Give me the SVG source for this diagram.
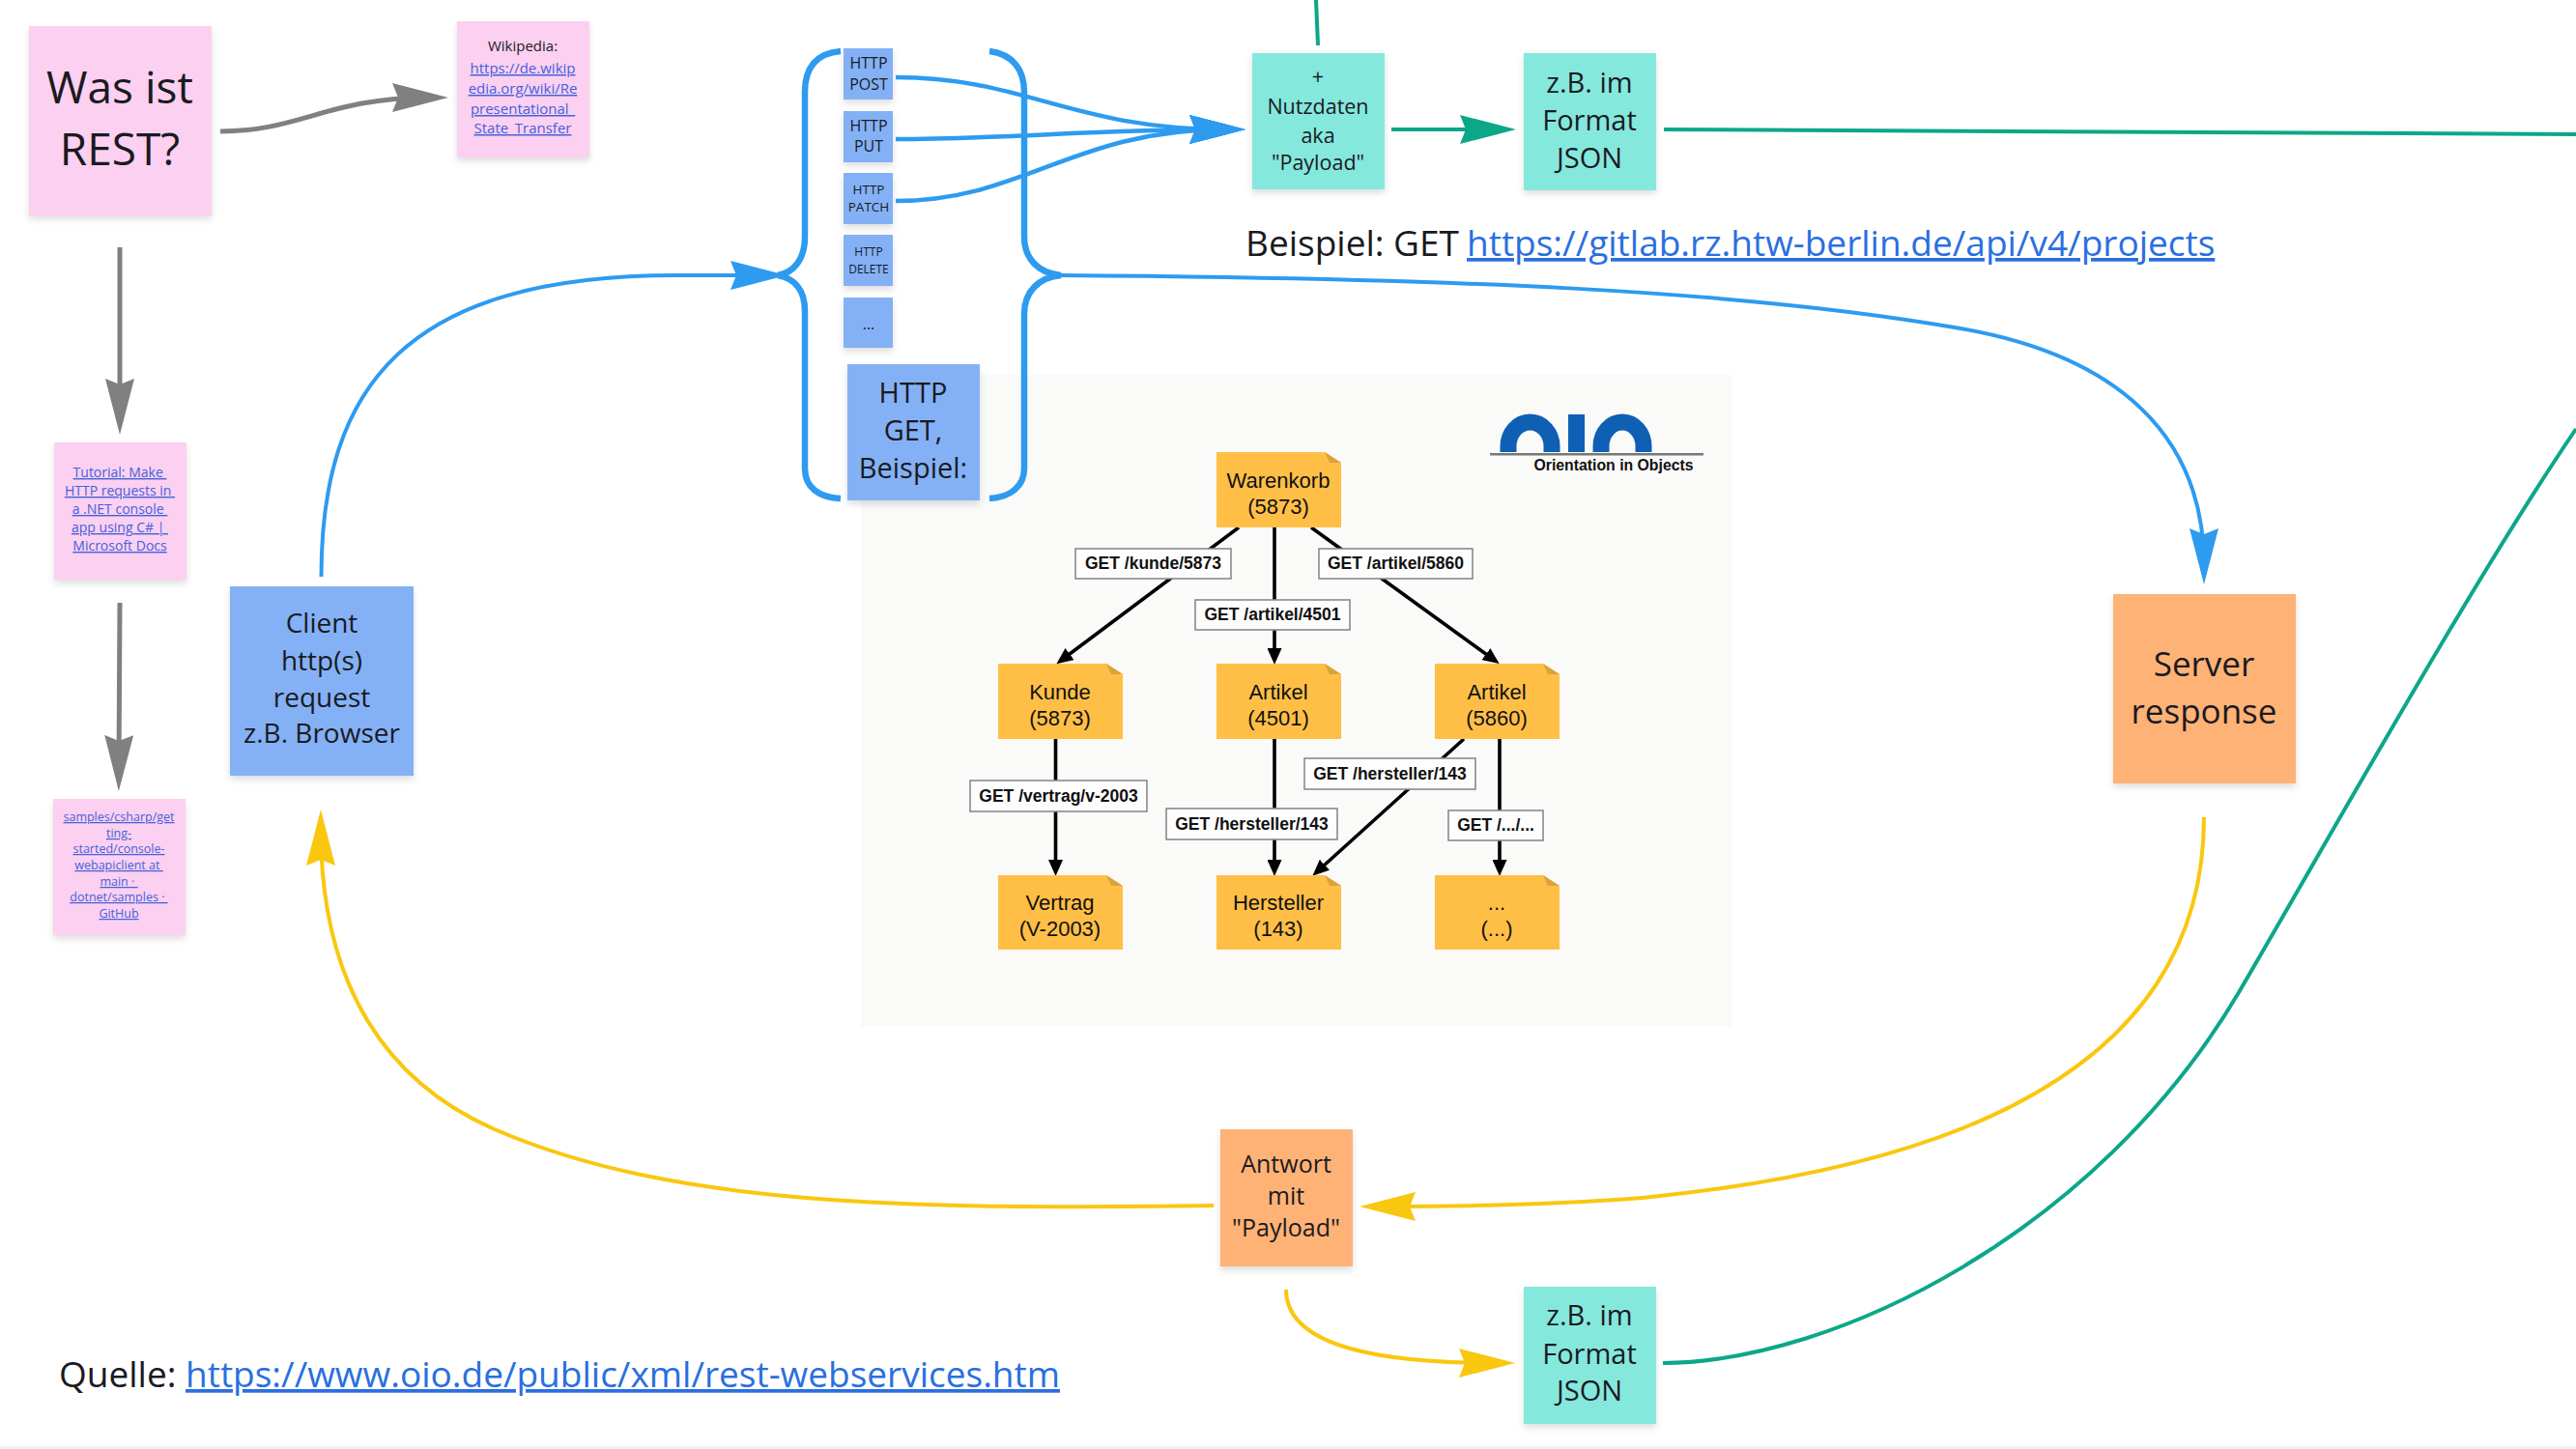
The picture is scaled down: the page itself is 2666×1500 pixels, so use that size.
<svg xmlns="http://www.w3.org/2000/svg" width="2666" height="1500" viewBox="0 0 2666 1500">
<style>
text{font-family:"Open Sans","Noto Sans",sans-serif;fill:#1a1a1f;text-anchor:middle;white-space:pre}
.lnk{fill:#4262dd;text-decoration:underline}
.big{fill:#2a6fe0;text-decoration:underline;text-anchor:start;font-size:37px}
.plain{text-anchor:start;font-size:37px}
.pink{fill:#fcd0f0}.blue{fill:#84b1f5}.teal{fill:#85e8dd}.orange{fill:#feb276}
.st{filter:url(#sh)}
.c{fill:none;stroke-width:4}
.g{stroke:#808080;stroke-width:5}.b{stroke:#2d9bf0}.y{stroke:#fac710}.t{stroke:#0ca789}
.note{fill:#ffbf47;stroke:none}
.fold{fill:#d9a23a}
.nt{font-family:"Liberation Sans",Arial,sans-serif;font-size:22px;fill:#111}
.lb{fill:#fdfdfd;stroke:#8a8a8a;stroke-width:1.6}
.lt{font-family:"Liberation Sans",Arial,sans-serif;font-size:17.5px;font-weight:bold;fill:#111}
.k{stroke:#000;stroke-width:3.6;fill:none}
</style>
<defs>
<filter id="sh" x="-20%" y="-20%" width="140%" height="140%"><feDropShadow dx="0" dy="4" stdDeviation="3.5" flood-color="#000" flood-opacity="0.13"/></filter>
<marker id="mg" markerUnits="userSpaceOnUse" markerWidth="58" markerHeight="30" viewBox="0 0 58 30" refX="38" refY="15" orient="auto"><path d="M0,0L58,15L0,30L6,15Z" fill="#808080"/></marker>
<marker id="mb" markerUnits="userSpaceOnUse" markerWidth="58" markerHeight="30" viewBox="0 0 58 30" refX="38" refY="15" orient="auto"><path d="M0,0L58,15L0,30L6,15Z" fill="#2d9bf0"/></marker>
<marker id="my" markerUnits="userSpaceOnUse" markerWidth="58" markerHeight="30" viewBox="0 0 58 30" refX="38" refY="15" orient="auto"><path d="M0,0L58,15L0,30L6,15Z" fill="#fac710"/></marker>
<marker id="mt" markerUnits="userSpaceOnUse" markerWidth="58" markerHeight="30" viewBox="0 0 58 30" refX="38" refY="15" orient="auto"><path d="M0,0L58,15L0,30L6,15Z" fill="#0ca789"/></marker>
<marker id="mk" markerUnits="userSpaceOnUse" markerWidth="17" markerHeight="15" viewBox="0 0 17 15" refX="10" refY="7.5" orient="auto"><path d="M0,0L17,7.5L0,15Z" fill="#000"/></marker>
</defs>
<rect width="2666" height="1500" fill="#fff"/>
<rect y="1497" width="2666" height="3" fill="#f1f1f1"/>

<g id="oio-panel">
<rect x="891" y="388" width="901" height="675" fill="#fafaf8"/>
<g id="oio-logo">
<path d="M1561,468V462A22.500,25 0 0 1 1606,462V468M1657,468V462A22,25 0 0 1 1701,462V468" fill="none" stroke="#0f5fb5" stroke-width="17"/>
<rect x="1623" y="429" width="17" height="39" fill="#0f5fb5"/>
<rect x="1542" y="469" width="221" height="2.5" fill="#77777a"/>
<text x="1670" y="487" style="font-family:'Liberation Sans',Arial,sans-serif;font-size:15.800px;font-weight:bold;fill:#111">Orientation in Objects</text>
</g>
<g id="oio-edges">
<path class="k" d="M1282,546L1099,683" marker-end="url(#mk)"/>
<path class="k" d="M1319,546V681" marker-end="url(#mk)"/>
<path class="k" d="M1357,546L1546,683" marker-end="url(#mk)"/>
<path class="k" d="M1092.500,765V900" marker-end="url(#mk)"/>
<path class="k" d="M1319,765V900" marker-end="url(#mk)"/>
<path class="k" d="M1515,765L1363.500,902" marker-end="url(#mk)"/>
<path class="k" d="M1552,765V900" marker-end="url(#mk)"/>
</g>
<g id="n-warenkorb"><path class="note" d="M1259,468H1371L1388,479V546H1259Z"/><path class="fold" d="M1371,468L1388,479H1376Z"/><text class="nt" x="1323" y="505">Warenkorb</text><text class="nt" x="1323" y="532">(5873)</text></g>
<g id="n-kunde"><path class="note" d="M1033,687H1145L1162,698V765H1033Z"/><path class="fold" d="M1145,687L1162,698H1150Z"/><text class="nt" x="1097" y="724">Kunde</text><text class="nt" x="1097" y="751">(5873)</text></g>
<g id="n-artikel4501"><path class="note" d="M1259,687H1371L1388,698V765H1259Z"/><path class="fold" d="M1371,687L1388,698H1376Z"/><text class="nt" x="1323" y="724">Artikel</text><text class="nt" x="1323" y="751">(4501)</text></g>
<g id="n-artikel5860"><path class="note" d="M1485,687H1597L1614,698V765H1485Z"/><path class="fold" d="M1597,687L1614,698H1602Z"/><text class="nt" x="1549" y="724">Artikel</text><text class="nt" x="1549" y="751">(5860)</text></g>
<g id="n-vertrag"><path class="note" d="M1033,906H1145L1162,917V983H1033Z"/><path class="fold" d="M1145,906L1162,917H1150Z"/><text class="nt" x="1097" y="942">Vertrag</text><text class="nt" x="1097" y="969">(V-2003)</text></g>
<g id="n-hersteller"><path class="note" d="M1259,906H1371L1388,917V983H1259Z"/><path class="fold" d="M1371,906L1388,917H1376Z"/><text class="nt" x="1323" y="942">Hersteller</text><text class="nt" x="1323" y="969">(143)</text></g>
<g id="n-etc"><path class="note" d="M1485,906H1597L1614,917V983H1485Z"/><path class="fold" d="M1597,906L1614,917H1602Z"/><text class="nt" x="1549" y="942">...</text><text class="nt" x="1549" y="969">(...)</text></g>
<g id="l-kunde"><rect class="lb" x="1113" y="568" width="161" height="31"/><text class="lt" x="1193.500" y="589">GET /kunde/5873</text></g>
<g id="l-artikel5860"><rect class="lb" x="1365" y="568" width="159" height="31"/><text class="lt" x="1444.500" y="589">GET /artikel/5860</text></g>
<g id="l-artikel4501"><rect class="lb" x="1237" y="621" width="160" height="31"/><text class="lt" x="1317" y="642">GET /artikel/4501</text></g>
<g id="l-vertrag"><rect class="lb" x="1004" y="808" width="183" height="32"/><text class="lt" x="1095.500" y="830">GET /vertrag/v-2003</text></g>
<g id="l-hersteller1"><rect class="lb" x="1207" y="837" width="177" height="32"/><text class="lt" x="1295.500" y="859">GET /hersteller/143</text></g>
<g id="l-hersteller2"><rect class="lb" x="1350" y="785" width="177" height="32"/><text class="lt" x="1438.500" y="807">GET /hersteller/143</text></g>
<g id="l-etc"><rect class="lb" x="1499" y="839" width="98" height="31"/><text class="lt" x="1548" y="860">GET /.../...</text></g>
</g>

<g id="connectors">
<path class="c g" d="M228,136C310,136 340,101 444,101" marker-end="url(#mg)"/>
<path class="c g" d="M124,256V430" marker-end="url(#mg)"/>
<path class="c g" d="M124,624L123,799" marker-end="url(#mg)"/>
<path class="c b" d="M332.500,597C332.500,400 420,285 700,285L794,285" marker-end="url(#mb)"/>
<path class="c b" style="stroke-width:6.500" d="M870,53C845,55 833,70 833,95V245C833,268 822,282 805,285C822,288 833,300 833,322V485C833,505 848,515 870,516"/>
<path class="c b" style="stroke-width:6.500" d="M1024,53C1048,56 1060,72 1060,95V245C1060,268 1075,283 1098,285C1075,287 1060,302 1060,325V485C1060,503 1046,515 1024,516"/>
<path class="c b" style="stroke-width:4.500" d="M927,80C1060,80 1110,134 1269,134" marker-end="url(#mb)"/>
<path class="c b" style="stroke-width:4.500" d="M927,144C1040,144 1130,134 1269,134" marker-end="url(#mb)"/>
<path class="c b" style="stroke-width:4.500" d="M927,208C1060,208 1110,134 1269,134" marker-end="url(#mb)"/>
<path class="c b" d="M1098,285C1500,288 1800,300 2029,340C2190,368 2281,450 2281,585" marker-end="url(#mb)"/>
<path class="c t" d="M1362,0L1364,47"/>
<path class="c t" d="M1440,134H1549" marker-end="url(#mt)"/>
<path class="c t" d="M1722,134L2666,139"/>
<path class="c t" d="M1721,1411C1900,1410 2170,1275 2316,1029C2416,858 2560,600 2666,444"/>
<path class="c y" d="M2281,846C2281,1140 1950,1215 1700,1240C1610,1247 1520,1249 1427,1249" marker-end="url(#my)"/>
<path class="c y" d="M1256,1248C950,1252 700,1250 514,1170C400,1121 332,1020 332,858" marker-end="url(#my)"/>
<path class="c y" d="M1331,1335C1331,1385 1400,1411 1548,1411" marker-end="url(#my)"/>
</g>

<g id="n-rest"><rect class="pink st" x="30" y="27" width="189" height="196"/><text x="124" y="107" font-size="46">Was ist</text><text x="124" y="171" font-size="46">REST?</text></g>
<g id="n-wikipedia"><rect class="pink st" x="473" y="22" width="137" height="141"/><text x="541" y="53" font-size="15">Wikipedia:</text><text class="lnk" x="541" y="76" font-size="15">https://de.wikip</text><text class="lnk" x="541" y="97" font-size="15">edia.org/wiki/Re</text><text class="lnk" x="541" y="118" font-size="15">presentational_</text><text class="lnk" x="541" y="138" font-size="15">State_Transfer</text></g>
<g id="n-tutorial"><rect class="pink st" x="56" y="458" width="137" height="142"/><text class="lnk" x="124" y="494" font-size="14">Tutorial: Make </text><text class="lnk" x="124" y="513" font-size="14">HTTP requests in </text><text class="lnk" x="124" y="532" font-size="14">a .NET console </text><text class="lnk" x="124" y="551" font-size="14">app using C# | </text><text class="lnk" x="124" y="570" font-size="14">Microsoft Docs</text></g>
<g id="n-samples"><rect class="pink st" x="55" y="827" width="137" height="141"/><text class="lnk" x="123" y="850" font-size="12.500">samples/csharp/get</text><text class="lnk" x="123" y="867" font-size="12.500">ting-</text><text class="lnk" x="123" y="883" font-size="12.500">started/console-</text><text class="lnk" x="123" y="900" font-size="12.500">webapiclient at </text><text class="lnk" x="123" y="917" font-size="12.500">main · </text><text class="lnk" x="123" y="933" font-size="12.500">dotnet/samples · </text><text class="lnk" x="123" y="950" font-size="12.500">GitHub</text></g>
<g id="n-client"><rect class="blue st" x="238" y="607" width="190" height="196"/><text x="333" y="655" font-size="28">Client</text><text x="333" y="694" font-size="28">http(s)</text><text x="333" y="732" font-size="28">request</text><text x="333" y="769" font-size="28">z.B. Browser</text></g>
<g id="n-post"><rect class="blue st" x="873" y="50" width="51" height="53"/><text x="899" y="71" font-size="16">HTTP</text><text x="899" y="93" font-size="16">POST</text></g>
<g id="n-put"><rect class="blue st" x="873" y="115" width="51" height="53"/><text x="899" y="136" font-size="16">HTTP</text><text x="899" y="157" font-size="16">PUT</text></g>
<g id="n-patch"><rect class="blue st" x="873" y="179" width="51" height="53"/><text x="899" y="201" font-size="13.500">HTTP</text><text x="899" y="219" font-size="13.500">PATCH</text></g>
<g id="n-delete"><rect class="blue st" x="873" y="243" width="51" height="53"/><text x="899" y="265" font-size="12">HTTP</text><text x="899" y="283" font-size="12">DELETE</text></g>
<g id="n-more"><rect class="blue st" x="873" y="308" width="51" height="52"/><text x="899" y="341" font-size="16">...</text></g>
<g id="n-get"><rect class="blue st" x="877" y="377" width="137" height="141"/><text x="945" y="417" font-size="29">HTTP</text><text x="945" y="456" font-size="29">GET,</text><text x="945" y="495" font-size="29">Beispiel:</text></g>
<g id="n-nutzdaten"><rect class="teal st" x="1296" y="55" width="137" height="141"/><text x="1364" y="87" font-size="21.500">+</text><text x="1364" y="118" font-size="21.500">Nutzdaten</text><text x="1364" y="148" font-size="21.500">aka</text><text x="1364" y="176" font-size="21.500">"Payload"</text></g>
<g id="n-json1"><rect class="teal st" x="1577" y="55" width="137" height="142"/><text x="1645" y="96" font-size="29">z.B. im</text><text x="1645" y="135" font-size="29">Format</text><text x="1645" y="174" font-size="29">JSON</text></g>
<g id="n-server"><rect class="orange st" x="2187" y="615" width="189" height="196"/><text x="2281" y="700" font-size="35">Server</text><text x="2281" y="749" font-size="35">response</text></g>
<g id="n-antwort"><rect class="orange st" x="1263" y="1169" width="137" height="142"/><text x="1331" y="1214" font-size="25">Antwort</text><text x="1331" y="1247" font-size="25">mit</text><text x="1331" y="1280" font-size="25">"Payload"</text></g>
<g id="n-json2"><rect class="teal st" x="1577" y="1332" width="137" height="142"/><text x="1645" y="1372" font-size="29">z.B. im</text><text x="1645" y="1412" font-size="29">Format</text><text x="1645" y="1450" font-size="29">JSON</text></g>
<g id="t-beispiel"><text class="plain" x="1289" y="265">Beispiel: GET </text><text class="big" x="1518" y="265">https://gitlab.rz.htw-berlin.de/api/v4/projects</text></g>
<g id="t-quelle"><text class="plain" x="61" y="1436">Quelle: </text><text class="big" x="192" y="1436">https://www.oio.de/public/xml/rest-webservices.htm</text></g>
</svg>
